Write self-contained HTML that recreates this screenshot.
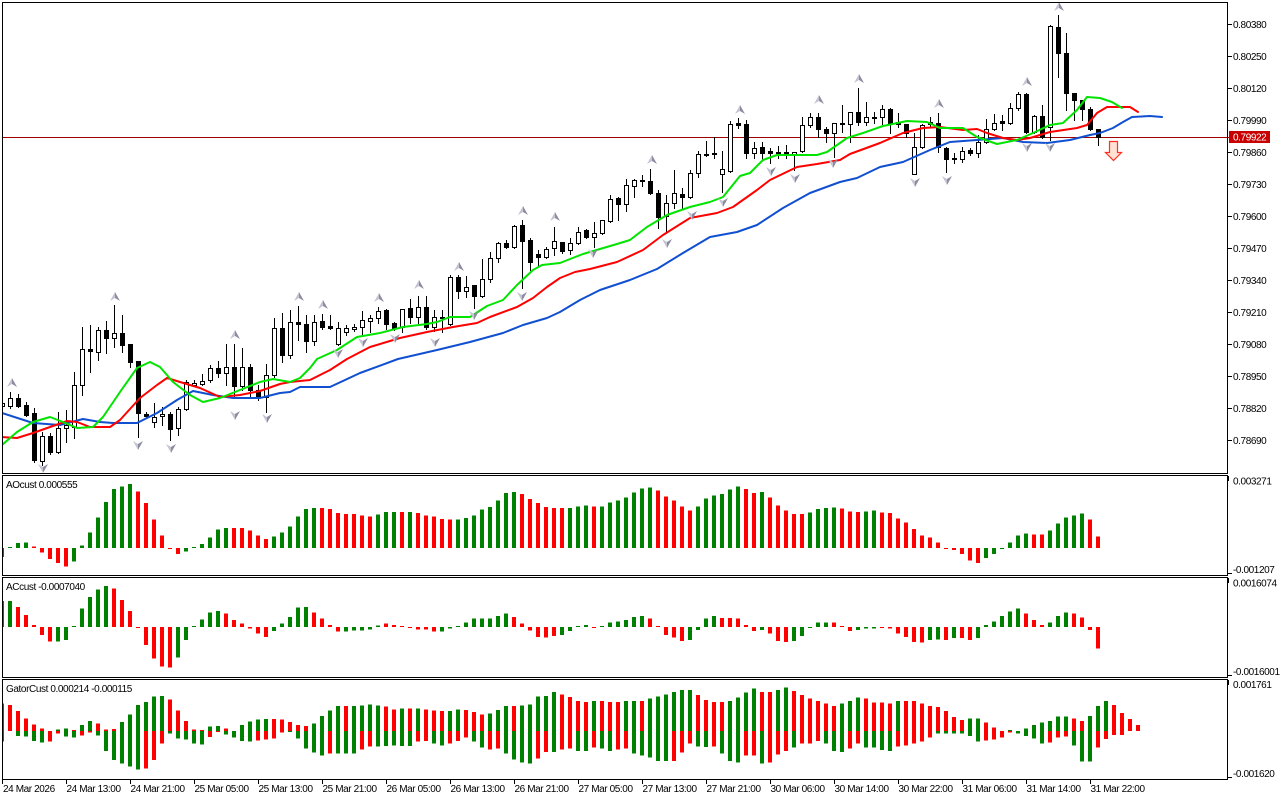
<!DOCTYPE html>
<html><head><meta charset="utf-8">
<style>
html,body{margin:0;padding:0;background:#fff;width:1280px;height:800px;overflow:hidden}
svg{position:absolute;left:0;top:0}
text{font-family:"Liberation Sans",Arial,sans-serif;font-size:10px;fill:#000;letter-spacing:-0.4px}
</style></head><body>
<svg id="s" width="1280" height="800" viewBox="0 0 1280 800" xmlns="http://www.w3.org/2000/svg">
<defs>
<clipPath id="cm"><rect x="3" y="3" width="1224" height="470"/></clipPath>
<clipPath id="ca"><rect x="3" y="476" width="1224" height="99"/></clipPath>
<clipPath id="cc"><rect x="3" y="578" width="1224" height="99"/></clipPath>
<clipPath id="cg"><rect x="3" y="680" width="1224" height="99"/></clipPath>
</defs>
<rect x="0" y="0" width="1280" height="800" fill="#fff"/>
<line x1="3" y1="137.5" x2="1229" y2="137.5" stroke="#a00000" stroke-width="1" shape-rendering="crispEdges"/>
<g id="gm" clip-path="url(#cm)" shape-rendering="crispEdges"></g>
<g id="gl" clip-path="url(#cm)"></g>
<g id="gf" clip-path="url(#cm)"></g>
<g id="ga" clip-path="url(#ca)" shape-rendering="crispEdges"></g>
<g id="gc" clip-path="url(#cc)" shape-rendering="crispEdges"></g>
<g id="gg" clip-path="url(#cg)" shape-rendering="crispEdges"></g>

<!-- sell arrow -->
<polygon points="1109.5,141.5 1117.5,141.5 1117.5,152.5 1121.5,152.5 1113.5,160.5 1105.5,152.5 1109.5,152.5" fill="#ffe0d4" stroke="#ff3020" stroke-width="1.2"/>

<!-- panel borders -->
<g fill="none" stroke="#000" stroke-width="1" shape-rendering="crispEdges">
<rect x="2.5" y="2.5" width="1225" height="471"/>
<rect x="2.5" y="475.5" width="1225" height="100"/>
<rect x="2.5" y="577.5" width="1225" height="100"/>
<rect x="2.5" y="679.5" width="1225" height="100"/>
</g>

<!-- price axis ticks -->
<g stroke="#000" stroke-width="1" shape-rendering="crispEdges">
<line x1="1227" y1="24.5" x2="1232" y2="24.5"/>
<line x1="1227" y1="56.5" x2="1232" y2="56.5"/>
<line x1="1227" y1="88.5" x2="1232" y2="88.5"/>
<line x1="1227" y1="120.5" x2="1232" y2="120.5"/>
<line x1="1227" y1="152.5" x2="1232" y2="152.5"/>
<line x1="1227" y1="184.5" x2="1232" y2="184.5"/>
<line x1="1227" y1="216.5" x2="1232" y2="216.5"/>
<line x1="1227" y1="248.5" x2="1232" y2="248.5"/>
<line x1="1227" y1="280.5" x2="1232" y2="280.5"/>
<line x1="1227" y1="312.5" x2="1232" y2="312.5"/>
<line x1="1227" y1="344.5" x2="1232" y2="344.5"/>
<line x1="1227" y1="376.5" x2="1232" y2="376.5"/>
<line x1="1227" y1="408.5" x2="1232" y2="408.5"/>
<line x1="1227" y1="440.5" x2="1232" y2="440.5"/>
<line x1="1228.5" y1="476" x2="1228.5" y2="481"/>
<line x1="1228" y1="573.5" x2="1232" y2="573.5"/>
<line x1="1228.5" y1="578" x2="1228.5" y2="583"/>
<line x1="1228" y1="675.5" x2="1232" y2="675.5"/>
<line x1="1228.5" y1="680" x2="1228.5" y2="685"/>
<line x1="1228" y1="777.5" x2="1232" y2="777.5"/>
</g>
<g>
<text x="1233" y="28">0.80380</text>
<text x="1233" y="60">0.80250</text>
<text x="1233" y="92">0.80120</text>
<text x="1233" y="124">0.79990</text>
<text x="1233" y="156">0.79860</text>
<text x="1233" y="188">0.79730</text>
<text x="1233" y="220">0.79600</text>
<text x="1233" y="252">0.79470</text>
<text x="1233" y="284">0.79340</text>
<text x="1233" y="316">0.79210</text>
<text x="1233" y="348">0.79080</text>
<text x="1233" y="380">0.78950</text>
<text x="1233" y="412">0.78820</text>
<text x="1233" y="444">0.78690</text>
</g>
<rect x="1229" y="131" width="41" height="12" fill="#c80000"/>
<text x="1233" y="140.5" style="fill:#fff">0.79922</text>

<text x="1233" y="484.5">0.003271</text>
<text x="1233" y="573">-0.001207</text>
<text x="1233" y="586.5">0.0016074</text>
<text x="1233" y="675">-0.0016001</text>
<text x="1233" y="688">0.001761</text>
<text x="1233" y="777">-0.001620</text>

<text x="6" y="488">AOcust 0.000555</text>
<text x="6" y="590">ACcust -0.0007040</text>
<text x="6" y="692">GatorCust 0.000214 -0.000115</text>

<!-- time axis -->
<g stroke="#000" stroke-width="1" shape-rendering="crispEdges">
<line x1="2.5" y1="779" x2="2.5" y2="784"/>
<line x1="66.5" y1="779" x2="66.5" y2="784"/>
<line x1="130.5" y1="779" x2="130.5" y2="784"/>
<line x1="194.5" y1="779" x2="194.5" y2="784"/>
<line x1="258.5" y1="779" x2="258.5" y2="784"/>
<line x1="322.5" y1="779" x2="322.5" y2="784"/>
<line x1="386.5" y1="779" x2="386.5" y2="784"/>
<line x1="450.5" y1="779" x2="450.5" y2="784"/>
<line x1="514.5" y1="779" x2="514.5" y2="784"/>
<line x1="578.5" y1="779" x2="578.5" y2="784"/>
<line x1="642.5" y1="779" x2="642.5" y2="784"/>
<line x1="706.5" y1="779" x2="706.5" y2="784"/>
<line x1="770.5" y1="779" x2="770.5" y2="784"/>
<line x1="834.5" y1="779" x2="834.5" y2="784"/>
<line x1="898.5" y1="779" x2="898.5" y2="784"/>
<line x1="962.5" y1="779" x2="962.5" y2="784"/>
<line x1="1026.5" y1="779" x2="1026.5" y2="784"/>
<line x1="1090.5" y1="779" x2="1090.5" y2="784"/>
</g>
<g>
<text x="3" y="792">24 Mar 2026</text>
<text x="66.5" y="792">24 Mar 13:00</text>
<text x="130.5" y="792">24 Mar 21:00</text>
<text x="194.5" y="792">25 Mar 05:00</text>
<text x="258.5" y="792">25 Mar 13:00</text>
<text x="322.5" y="792">25 Mar 21:00</text>
<text x="386.5" y="792">26 Mar 05:00</text>
<text x="450.5" y="792">26 Mar 13:00</text>
<text x="514.5" y="792">26 Mar 21:00</text>
<text x="578.5" y="792">27 Mar 05:00</text>
<text x="642.5" y="792">27 Mar 13:00</text>
<text x="706.5" y="792">27 Mar 21:00</text>
<text x="770.5" y="792">30 Mar 06:00</text>
<text x="834.5" y="792">30 Mar 14:00</text>
<text x="898.5" y="792">30 Mar 22:00</text>
<text x="962.5" y="792">31 Mar 06:00</text>
<text x="1026.5" y="792">31 Mar 14:00</text>
<text x="1090.5" y="792">31 Mar 22:00</text>
</g>
</svg>
<script>
var NS='http://www.w3.org/2000/svg';
function E(p,t,a){var e=document.createElementNS(NS,t);for(var k in a)e.setAttribute(k,a[k]);p.appendChild(e);return e;}
var C=[
['w',403,406,400,410],['w',398,406,392,408],['b',398,406,394,407],['b',405,415,402,416],['b',413,460,408,462],
['w',436,461,432,465],['b',436,452,433,454],['w',428,452,412,453],['w',425,428,410,442],['w',385,427,372,438],
['w',349,385,327,395],['b',349,351,325,372],['w',330,352,327,360],['b',330,338,321,353],['w',333,338,305,347],
['b',333,345,315,352],['b',344,362,344,367],['b',361,413,361,437],['b',414,416,412,418],['w',417,422,403,427],
['w',414,416,407,425],['b',414,429,412,440],['w',409,428,407,435],['w',382,409,380,410],['w',383,385,380,386],
['w',381,384,374,385],['w',368,380,365,382],['b',368,373,361,377],['w',367,373,344,385],['b',367,386,344,398],
['w',367,386,348,390],['b',367,390,364,398],['b',390,397,385,400],['w',375,397,364,412],['w',328,375,318,377],
['b',328,355,313,362],['w',322,355,310,358],['b',322,324,306,340],['b',324,341,315,352],['w',322,341,315,345],
['b',321,327,314,329],['b',326,328,315,329],['w',328,344,322,345],['w',328,332,325,335],['w',327,329,324,331],
['w',320,327,311,334],['w',318,321,315,332],['w',311,318,307,323],['b',310,324,309,329],['b',323,328,322,330],
['w',309,327,309,332],['b',308,317,299,323],['w',307,317,296,323],['b',307,327,296,329],['w',317,327,310,331],
['b',317,318,310,332],['w',277,324,275,325],['b',277,291,275,298],['w',287,291,276,297],['b',285,296,285,308],
['w',279,296,259,297],['w',258,279,252,282],['w',243,258,242,262],['b',243,247,240,248],['w',226,247,225,248],
['b',225,241,220,288],['b',240,262,238,270],['b',254,257,250,267],['w',249,257,247,258],['w',241,248,227,255],
['b',242,251,242,253],['w',243,250,238,254],['w',232,243,227,244],['b',230,237,229,238],['w',233,237,222,247],
['w',220,233,220,234],['w',199,221,195,222],['b',198,204,197,220],['w',185,204,179,211],['w',180,186,179,197],
['b',180,181,175,186],['b',181,193,169,194],['b',193,217,190,228],['w',203,216,195,233],['w',193,203,170,208],
['b',194,197,188,208],['w',173,197,170,198],['w',154,173,151,177],['b',154,155,141,156],['b',153,154,137,158],
['w',169,174,151,192],['w',124,171,121,172],['b',123,125,118,128],['b',124,153,120,158],['w',148,153,142,158],
['b',147,153,142,160],['b',151,153,148,163],['b',152,153,146,158],['b',152,154,145,158],['w',152,154,152,170],
['w',125,151,117,152],['w',117,125,113,127],['b',117,129,113,137],['b',129,133,127,142],['w',123,133,123,157],
['b',123,124,105,132],['w',112,124,112,142],['b',112,122,88,125],['w',117,122,102,125],['b',117,118,112,123],
['w',109,117,105,124],['b',109,123,108,133],['b',122,124,113,127],['b',124,133,124,137],['w',147,174,133,174],
['w',125,147,124,148],['b',122,124,117,127],['b',123,147,113,152],['b',148,159,147,172],['b',158,159,153,163],
['w',151,159,147,162],['b',150,153,148,155],['w',142,153,135,157],['w',129,142,119,143],['w',123,129,114,130],
['b',121,123,115,130],['w',108,123,103,124],['w',94,108,92,110],['b',94,132,93,133],['w',116,132,115,133],
['b',116,137,105,138],['w',26,127,25,140],['b',27,53,15,77],['b',53,93,33,110],['b',93,100,93,120],
['b',100,109,100,120],['b',109,129,107,130],['b',129,137,129,145]
];
var gm=document.getElementById('gm');
for(var i=0;i<C.length;i++){var c=C[i],x=2+8*i;
 E(gm,'rect',{x:x,y:c[3],width:1,height:c[4]-c[3]+1,fill:'#000'});
 var h=c[2]-c[1]+1;
 E(gm,'rect',{x:x-2,y:c[1],width:5,height:h,fill:'#000'});
 if(c[0]=='w'&&h>2)E(gm,'rect',{x:x-1,y:c[1]+1,width:3,height:h-2,fill:'#fff'});
}
var gl=document.getElementById('gl');
function line(pts,col){E(gl,'polyline',{points:pts,fill:'none',stroke:col,'stroke-width':2,'stroke-linejoin':'round','stroke-linecap':'round'});}
line('2,413 33,423 60,425 83,419 100,422 113,423 137,423 157,413 177,400 193,391 213,395 233,398 260,398 280,393 290,392 300,387 330,387 360,373 398,359 437,350 470,342 503,333 523,325 547,318 560,312 580,300 600,290 630,280 657,269 683,253 710,237 737,232 757,225 783,208 810,193 840,182 857,178 880,167 903,162 930,150 950,142 977,140 1003,138 1023,142 1047,143 1070,140 1090,135 1100,133 1113,128 1123,122 1132,117 1150,116 1162,117','#1050d0');
line('2,437 17,438 33,433 50,427 67,421 77,422 90,427 110,427 120,420 140,398 157,385 167,378 180,382 200,388 220,397 240,395 260,391 280,384 290,382 310,380 330,370 347,359 370,347 400,338 427,332 453,327 477,323 490,317 517,307 533,298 547,287 560,278 575,272 590,269 617,262 643,250 663,235 690,218 717,213 733,207 757,190 770,180 797,167 817,164 840,160 850,154 880,143 903,133 923,128 940,127 963,130 977,129 987,133 1003,138 1017,140 1030,138 1050,132 1077,128 1087,125 1097,113 1107,107 1130,107 1138,112','#ff0000');
line('2,445 17,432 33,422 50,417 63,422 77,428 93,427 103,417 120,392 137,368 150,362 160,367 173,382 190,395 203,402 220,398 240,390 260,382 273,379 290,382 300,378 310,368 317,359 337,350 357,337 380,333 403,327 427,324 437,322 450,317 470,317 487,306 503,300 517,285 533,270 542,265 560,263 583,254 617,244 630,240 647,227 667,215 690,207 710,202 723,197 740,176 750,173 763,160 777,155 817,155 827,152 840,143 847,138 863,133 883,126 907,121 927,122 940,128 963,128 977,137 997,144 1017,140 1033,133 1050,125 1063,123 1077,110 1087,97 1100,98 1112,102 1122,108','#00e400');
var gf=document.getElementById('gf');
function fr(x,y,up){var s=up?1:-1;
 E(gf,'polygon',{points:x+','+(y-5*s)+' '+x+','+(y+1*s)+' '+(x-5)+','+(y+4*s),fill:'#c4c4d2'});
 E(gf,'polygon',{points:x+','+(y-5*s)+' '+(x+5)+','+(y+4*s)+' '+x+','+(y+1*s),fill:'#8c8ca0'});}
[[12,383],[115,297],[235,335],[299,297],[323,305],[379,298],[419,285],[459,267],[523,211],[555,217],[652,160],[740,110],[819,100],[859,79],[939,104],[1027,82],[1059,7]].forEach(function(p){fr(p[0],p[1],true);});
[[43,468],[138,445],[171,448],[235,415],[267,418],[338,353],[363,342],[395,338],[435,342],[474,315],[522,296],[593,253],[667,243],[692,215],[723,202],[771,171],[795,178],[833,163],[915,182],[947,180],[1027,147],[1050,147]].forEach(function(p){fr(p[0],p[1],false);});
function hist(id,str,zero){var g=document.getElementById(id);str.split(' ').forEach(function(t,i){var col=t[0]=='g'?'#008000':'#ff0000';var v=parseFloat(t.slice(1))/3;var x=2+8*i-2;var a=Math.max(Math.abs(v),1);if(v>=0)E(g,'rect',{x:x,y:zero-a,width:4,height:a,fill:col});else E(g,'rect',{x:x,y:zero,width:4,height:a,fill:col});});}
hist('ga','g-27 g2 g15 g17 r5 r-13 r-33 r-45 r-55 g-40 g7 g47 g92 g138 g177 g185 g192 r170 r135 r85 r38 r-3 r-18 g-10 g3 g12 g32 g55 g60 r60 r60 r53 r38 r27 g35 g47 g65 g95 g117 g120 r120 r117 r105 r102 r102 r98 r95 g100 g108 g108 r108 g108 r105 r98 r95 r87 r85 g85 g90 g98 g115 g123 g143 g165 g168 r162 r147 r135 r123 r120 r120 g120 g125 g128 r125 g125 g137 g143 g152 g167 g178 g182 r173 r155 r143 r125 r113 g125 g149 g158 g162 g176 g185 r177 r165 g168 r152 r128 r113 r102 r102 g107 g117 g120 g122 r119 r110 r108 g110 g113 r107 r105 r89 r77 r57 r38 r32 r17 r-3 r-6 r-18 r-37 r-45 g-30 g-18 g-2 g17 g38 g43 r41 r41 g53 g74 g92 g98 g104 r86 r35',548);
hist('gc','g78 g78 r60 r36 r6 r-24 r-44 g-44 g-39 g1 g55 g90 g113 g123 r116 r81 r48 r-2 r-54 r-95 r-119 r-122 g-92 g-39 g1 g23 g43 g48 r40 r21 r10 r-5 r-20 r-30 g-12 g10 g30 g58 g60 r43 r25 r6 r-14 g-14 g-10 g-10 g-7 g5 r10 r6 r3 r-2 r-7 r-7 r-14 g-14 g-5 g3 g13 g26 g26 g26 g33 g40 r30 r10 r-10 r-30 r-32 r-27 g-24 g-12 g1 g6 r-2 g3 g13 g16 g21 g30 g33 r25 r3 r-24 r-32 r-42 g-39 g-9 g25 g33 r27 r27 r25 r6 r-12 g-9 r-20 r-42 r-45 g-42 g-27 g-2 g13 g13 r13 r3 r-12 g-9 g-4 g-4 r-2 r-5 r-20 r-30 r-45 r-47 g-39 g-37 r-39 g-33 r-33 r-39 g-33 g6 g16 g33 g46 g55 r40 r21 r6 g13 g33 g43 r40 r28 r-9 r-65',627);
(function(){var g=document.getElementById('gg');var z=731;
var s='r83,r32 r78,n0 r60,g15 r38,g17 r20,g30 r8,g35 n0,r32 g5,r8 g8,g17 r3,g20 g18,r13 g30,r5 r22,g13 r5,g60 r6,g87 g27,g97 g50,g107 g78,g115 g87,r113 g103,r87 g105,r38 r95,g8 r62,g22 r30,g25 r5,g38 r3,g40 g13,r18 g15,r3 r8,g10 n0,g20 g18,g30 g28,g32 g35,r28 g36,r25 r36,r22 r35,r5 r27,g2 r18,g22 r15,g53 g23,g65 g45,g73 g62,r67 g75,g67 r75,g68 g75,g67 g77,r55 g80,r47 g77,g47 r73,g45 r65,g43 g68,g45 r68,g45 g68,r32 r65,r30 r62,g38 r60,g43 g60,r38 g65,r30 r63,r20 r57,g32 r50,g50 g53,r55 g63,r53 g75,g67 r75,g85 g77,g95 g80,g97 g103,r83 g105,r63 g117,g63 r110,r55 r102,r53 r90,g60 r87,g60 g90,r50 r90,g53 r87,g60 r87,r55 g90,r53 g90,g67 r90,g73 g97,g80 g103,g90 g110,g90 g117,r90 g123,r65 g123,r38 r108,g47 r93,g48 r87,r47 r87,g68 g90,g90 g100,g95 g115,r73 g127,r73 r117,g97 r117,r95 g123,r70 g130,r60 r120,g50 r108,r38 r97,r38 r90,r30 r83,g38 r75,g60 g82,g63 g90,r53 g100,r38 r97,g50 r85,g50 r85,g57 r82,g60 g90,r47 r90,r43 r90,r38 r82,r32 r75,r20 r72,g7 r60,g8 r42,g7 r33,g7 g37,g15 g37,g32 r25,r28 r10,r25 n0,r20 g3,r5 n0,g8 g8,g15 g18,g23 g25,g38 g30,r35 g43,r20 g43,r17 r37,g43 r30,g92 g45,g92 g75,r50 g90,r24 r78,r12 r54,r12 r36,n0 r18,n0';
s.split(' ').forEach(function(t,i){var p=t.split(','),x=2+8*i-2;
 var u=parseFloat(p[0].slice(1))/3,d=parseFloat(p[1].slice(1))/3;
 if(p[0][0]!='n'&&u>0)E(g,'rect',{x:x,y:z-Math.max(u,1),width:4,height:Math.max(u,1),fill:p[0][0]=='g'?'#008000':'#ff0000'});
 if(p[1][0]!='n'&&d>0)E(g,'rect',{x:x,y:z,width:4,height:Math.max(d,1),fill:p[1][0]=='g'?'#008000':'#ff0000'});
});})();
</script>
</body></html>
